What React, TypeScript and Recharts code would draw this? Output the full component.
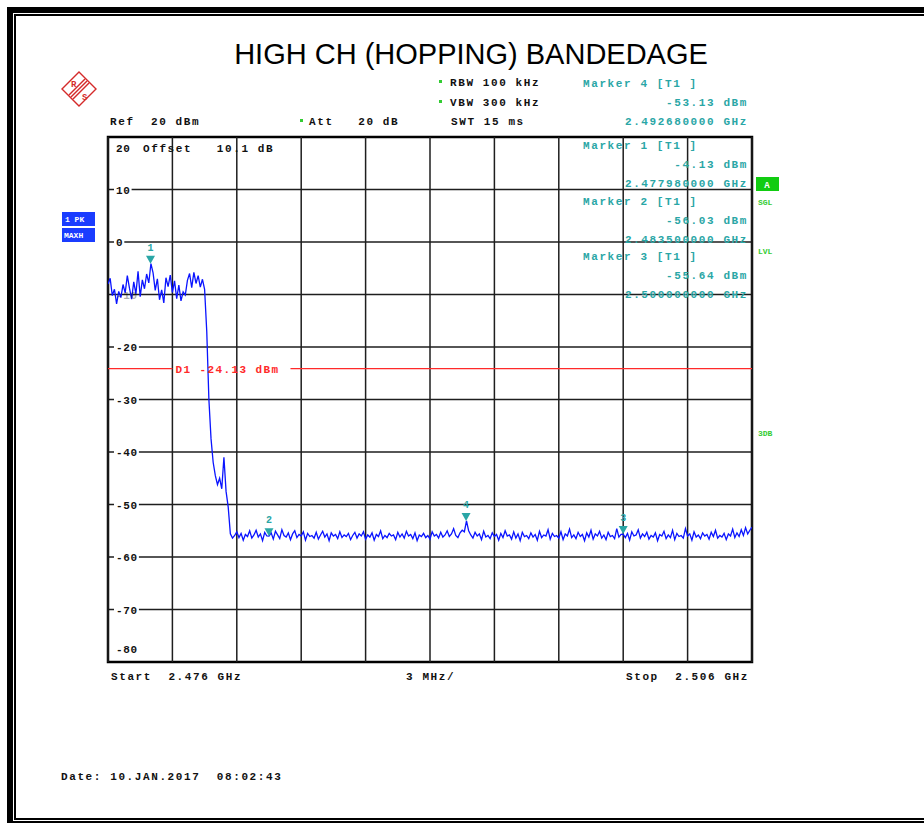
import React from 'react';
import {
  CartesianGrid,
  ComposedChart,
  Line,
  ReferenceArea,
  ReferenceDot,
  ReferenceLine,
  XAxis,
  YAxis,
} from 'recharts';

const chartTitle = 'HIGH CH (HOPPING) BANDEDAGE';

// sweep settings (GHz)
const sweepStartGHz = 2.476;
const sweepStopGHz = 2.506;
const sweepStepGHz = 0.0001;
const freqTicksGHz = [2.476, 2.479, 2.482, 2.485, 2.488, 2.491, 2.494, 2.497, 2.5, 2.503, 2.506];
const levelTicksDbm = [20, 10, 0, -10, -20, -30, -40, -50, -60, -70, -80];

const inBandDbm = [
  -8.0, -6.9, -10.2, -9.0, -11.8, -9.4, -10.6, -8.1, -9.7, -6.4,
  -8.8, -10.9, -7.6, -9.9, -5.6, -10.4, -7.2, -8.9, -6.1, -7.8,
  -4.1, -5.9, -9.2, -7.0, -11.0, -9.1, -11.6, -6.8, -8.5, -6.3,
  -9.6, -7.4, -10.8, -8.2, -11.2, -9.5, -10.1, -7.3, -6.0, -8.7,
  -5.8, -7.9, -6.4, -8.6, -7.1, -9.0,
];
const skirtDbm = [-17.0, -30.0, -37.5, -42.0, -44.5, -46.2, -45.0, -47.0, -41.0, -47.5, -50.5, -55.6, -56.4];
const floorDbm = [
  -55.9, -55.2, -56.3, -55.5, -56.8, -55.7, -56.1, -55.0, -56.4, -55.8,
  -54.9, -56.2, -55.6, -56.9, -55.3, -56.0, -56.03, -55.4, -56.6, -55.1,
  -55.8, -56.5, -54.8, -55.9, -56.2, -55.4, -56.7, -55.6, -55.0, -56.3,
  -55.7, -56.0, -55.2, -56.8, -55.5, -56.1, -55.9, -56.4, -55.3, -56.6,
  -55.8, -55.1, -56.2, -55.6, -56.9, -55.4, -56.0, -55.7, -56.5, -55.2,
  -56.3, -55.8, -56.1, -55.5, -56.7, -55.9, -55.3, -56.4, -55.6, -56.0,
  -55.2, -56.6, -55.8, -56.2, -55.4, -56.8, -55.7, -56.1, -55.0, -56.5,
  -55.9, -56.3, -55.5, -56.0, -55.8, -56.7, -55.3, -56.2, -55.6, -56.4,
  -55.1, -56.0, -55.7, -56.5, -55.4, -56.9, -55.8, -56.1, -55.5, -56.3,
  -55.9, -56.6, -55.2, -56.0, -55.7, -56.4, -55.3, -56.2, -55.8, -55.0,
  -56.1, -55.6, -54.6, -55.9, -56.3, -55.4, -54.9, -55.2, -53.1, -55.0,
  -55.8, -56.4, -55.3, -56.0, -55.6, -56.7, -55.1, -56.2, -55.9, -56.5,
  -55.4, -56.1, -55.7, -56.8, -55.5, -56.3, -55.0, -56.0, -55.8, -56.6,
  -55.2, -56.4, -55.6, -56.9, -55.3, -56.1, -55.9, -56.5, -55.4, -56.2,
  -55.7, -56.8, -55.1, -56.3, -55.8, -56.0, -54.8, -56.6, -55.5, -56.1,
  -55.9, -56.4, -55.2, -56.7, -55.6, -56.0, -54.7, -56.3, -55.8, -56.5,
  -55.3, -56.1, -55.7, -56.9, -55.4, -56.2, -54.9, -56.6, -55.6, -56.0,
  -55.1, -56.4, -55.8, -56.7, -55.3, -56.1, -55.9, -56.5, -54.6, -56.2,
  -55.7, -55.64, -56.3, -55.5, -56.8, -55.2, -56.0, -55.8, -54.8, -56.4,
  -55.6, -56.1, -55.3, -56.6, -55.9, -56.2, -55.4, -56.9, -55.7, -56.0,
  -55.1, -56.5, -55.8, -56.3, -54.9, -56.7, -55.5, -56.1, -55.9, -56.4,
  -54.6, -56.0, -55.6, -56.8, -55.2, -56.2, -55.8, -56.5, -55.4, -56.0,
  -55.7, -56.6, -55.3, -56.1, -54.9, -56.4, -55.9, -56.2, -55.5, -56.7,
  -55.6, -56.0, -54.7, -56.3, -55.4, -56.1, -54.8, -55.9, -54.4, -55.6,
  -54.9, -54.3,
];

const markerIds = [1, 2, 3, 4];
const markerFreqGHz = [2.47798, 2.4835, 2.5, 2.49268];
const markerDbm = [-4.13, -56.03, -55.64, -53.13];
const displayLineDbm = -24.13;

const traceDbm = [...inBandDbm, ...skirtDbm, ...floorDbm];
const traceData = traceDbm.map((v, i) => ({
  f: +(sweepStartGHz + i * sweepStepGHz).toFixed(4),
  dbm: v,
}));

const mono = "'Liberation Mono', 'DejaVu Sans Mono', monospace";
const teal = '#2aa6a6';
const red = '#ff2a2a';
const green = '#33cc33';
const blue = '#1a3cff';
const gridColor = '#1e1e1e';

const txt = { fontFamily: mono, fontSize: 11, fontWeight: 700, letterSpacing: 1.6 } as const;

// level label printed just inside the left edge of the grid
const LevelLabel = (v: number) => (props: any) => {
  const { cx, cy } = props;
  const label = String(v);
  let ty = cy;
  if (v === 20) ty = cy + 11;
  if (v === -80) ty = cy - 13;
  const w = label.length * 7.3;
  const onLine = v !== 20 && v !== -80 && v !== -10;
  return (
    <g>
      {onLine && <rect x={cx + 6} y={ty - 5} width={w + 3} height={10} fill="#fff" />}
      <text
        x={cx + 8}
        y={ty + 4}
        fill="#111"
        fillOpacity={v === -10 ? 0.35 : 1}
        fontFamily={mono}
        fontSize={11}
        fontWeight={700}
        letterSpacing={0.7}
      >
        {label}
      </text>
    </g>
  );
};

const MarkerGlyph = (id: number) => (props: any) => {
  const { cx, cy } = props;
  return (
    <g>
      <polygon points={`${cx - 4.5},${cy - 8} ${cx + 4.5},${cy - 8} ${cx},${cy}`} fill={teal} />
      <text x={cx} y={cy - 13} textAnchor="middle" fill={teal} fontFamily={mono} fontSize={10} fontWeight={700}>
        {id}
      </text>
    </g>
  );
};

// where each marker read-out block is printed (Marker 4 in the header, 1..3 at the top right of the grid)
const markerBlockOrder = [3, 0, 1, 2];
const markerBlockTop = [87, 149, 205, 260];

const Overlay = () => (
  <svg width={924} height={823} style={{ position: 'absolute', left: 0, top: 0, pointerEvents: 'none' }}>
    {/* frame */}
    <rect x={10} y={10} width={930} height={814} fill="none" stroke="#000" strokeWidth={6} />
    <rect x={15} y={15} width={920} height={804} fill="none" stroke="#000" strokeWidth={2} />

    <text x={471} y={64} textAnchor="middle" fontFamily="'Liberation Sans', Arial, sans-serif" fontSize={29} fill="#000">
      {chartTitle}
    </text>

    {/* R&S logo */}
    <g stroke="#d42a2a" fill="none" strokeWidth={1.4}>
      <polygon points="79,72 96,89 79,106 62,89" />
      <line x1={71} y1={97} x2={87} y2={81} />
      <line x1={73} y1={99} x2={89} y2={83} />
      <line x1={69} y1={95} x2={85} y2={79} />
    </g>
    <text x={71} y={87} fill="#d42a2a" fontFamily={mono} fontSize={9} fontWeight={700}>R</text>
    <text x={82} y={100} fill="#d42a2a" fontFamily={mono} fontSize={9} fontWeight={700}>S</text>

    {/* settings */}
    <rect x={439} y={80} width={3} height={3} fill={green} />
    <rect x={439} y={100} width={3} height={3} fill={green} />
    <rect x={300} y={119} width={3} height={3} fill={green} />
    <text x={450} y={86} {...txt} fill="#111">RBW 100 kHz</text>
    <text x={450} y={106} {...txt} fill="#111">VBW 300 kHz</text>
    <text x={451} y={125} {...txt} fill="#111">SWT 15 ms</text>
    <text x={110} y={125} {...txt} fill="#111" style={{ whiteSpace: 'pre' }}>{'Ref  20 dBm'}</text>
    <text x={309} y={125} {...txt} fill="#111" style={{ whiteSpace: 'pre' }}>{'Att   20 dB'}</text>
    <text x={143} y={152} {...txt} fill="#111" style={{ whiteSpace: 'pre' }}>{'Offset   10.1 dB'}</text>

    {/* marker read-outs */}
    {markerBlockOrder.map((m, i) => (
      <g key={m}>
        <text x={583} y={markerBlockTop[i]} {...txt} fill={teal}>{`Marker ${markerIds[m]} [T1 ]`}</text>
        <text x={748} y={markerBlockTop[i] + 19} {...txt} fill={teal} textAnchor="end">{`${markerDbm[m].toFixed(2)} dBm`}</text>
        <text x={748} y={markerBlockTop[i] + 38} {...txt} fill={teal} textAnchor="end">{`${markerFreqGHz[m].toFixed(9)} GHz`}</text>
      </g>
    ))}

    {/* trace status */}
    <rect x={62} y={212} width={33} height={14} fill={blue} />
    <rect x={62} y={228} width={33} height={14} fill={blue} />
    <text x={65} y={222} fill="#fff" fontFamily={mono} fontSize={8} fontWeight={700}>1 PK</text>
    <text x={64} y={238} fill="#fff" fontFamily={mono} fontSize={8} fontWeight={700}>MAXH</text>
    <rect x={756} y={177} width={23} height={14} fill="#11cc11" />
    <text x={767} y={188} textAnchor="middle" fill="#fff" fontFamily={mono} fontSize={9} fontWeight={700}>A</text>
    <text x={758} y={205} fill={green} fontFamily={mono} fontSize={8} fontWeight={700}>SGL</text>
    <text x={758} y={254} fill={green} fontFamily={mono} fontSize={8} fontWeight={700}>LVL</text>
    <text x={758} y={436} fill={green} fontFamily={mono} fontSize={8} fontWeight={700}>3DB</text>

    {/* span */}
    <text x={111} y={680} {...txt} fill="#111" style={{ whiteSpace: 'pre' }}>{`Start  ${sweepStartGHz.toFixed(3)} GHz`}</text>
    <text x={406} y={680} {...txt} fill="#111">3 MHz/</text>
    <text x={626} y={680} {...txt} fill="#111" style={{ whiteSpace: 'pre' }}>{`Stop  ${sweepStopGHz.toFixed(3)} GHz`}</text>
    <text x={61} y={780} {...txt} fill="#111" style={{ whiteSpace: 'pre' }}>{'Date: 10.JAN.2017  08:02:43'}</text>
  </svg>
);

export default function App() {
  return (
    <div style={{ position: 'absolute', left: 0, top: 0, width: 924, height: 823, background: '#fff' }}>
      <ComposedChart
        width={924}
        height={823}
        data={traceData}
        margin={{ top: 137, right: 172, bottom: 161, left: 108 }}
      >
        <CartesianGrid stroke={gridColor} strokeWidth={1.5} vertical={false} />
        <XAxis
          type="number"
          dataKey="f"
          domain={[sweepStartGHz, sweepStopGHz]}
          ticks={freqTicksGHz}
          hide
          allowDataOverflow
        />
        <YAxis type="number" domain={[-80, 20]} ticks={levelTicksDbm} hide allowDataOverflow />
        {freqTicksGHz.map((t) => (
          <ReferenceLine key={`g${t}`} x={t} stroke={gridColor} strokeWidth={1.5} />
        ))}
        {levelTicksDbm.map((v) => (
          <ReferenceDot key={`l${v}`} x={sweepStartGHz} y={v} r={0} shape={LevelLabel(v)} />
        ))}
        <ReferenceLine
          segment={[{ x: sweepStartGHz, y: displayLineDbm }, { x: 2.479, y: displayLineDbm }]}
          stroke={red}
          strokeWidth={1.2}
          label={{ value: `D1 ${displayLineDbm.toFixed(2)} dBm`, position: 'right', offset: 3, fill: red, fontFamily: mono, fontSize: 11, fontWeight: 700, letterSpacing: 1.4 }}
        />
        <ReferenceLine
          segment={[{ x: 2.4845, y: displayLineDbm }, { x: sweepStopGHz, y: displayLineDbm }]}
          stroke={red}
          strokeWidth={1.2}
        />
        <Line
          type="linear"
          dataKey="dbm"
          stroke="#0a14ff"
          strokeWidth={1.3}
          dot={false}
          isAnimationActive={false}
        />
        {markerIds.map((id, i) => (
          <ReferenceDot
            key={id}
            x={markerFreqGHz[i]}
            y={markerDbm[i]}
            r={0}
            shape={MarkerGlyph(id)}
          />
        ))}
        <ReferenceArea
          x1={sweepStartGHz}
          x2={sweepStopGHz}
          y1={-80}
          y2={20}
          fill="none"
          stroke="#000"
          strokeWidth={2.5}
        />
      </ComposedChart>
      <Overlay />
    </div>
  );
}
